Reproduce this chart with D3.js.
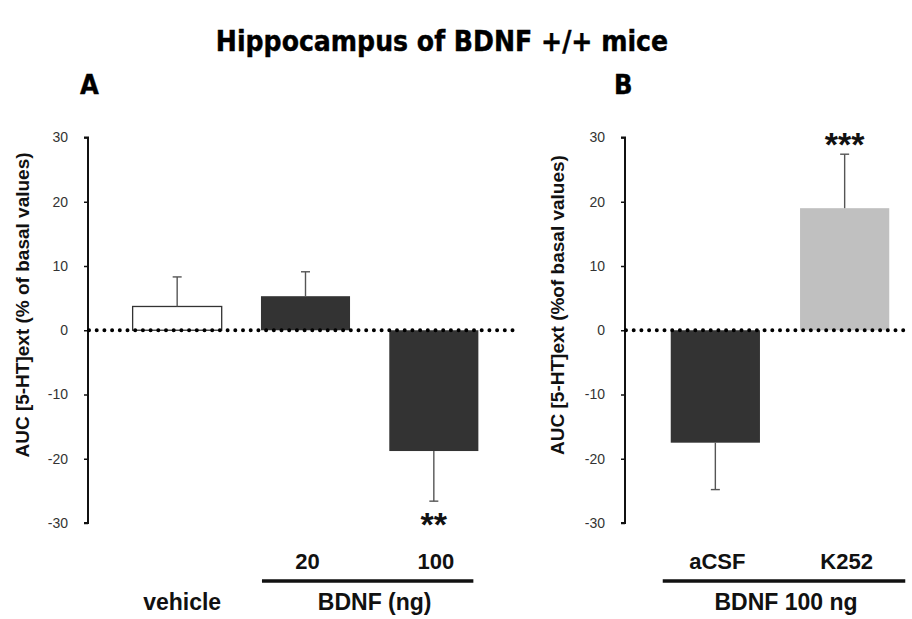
<!DOCTYPE html>
<html>
<head>
<meta charset="utf-8">
<script src="https://cdn.jsdelivr.net/npm/d3@7"></script>
<style>
  html, body { margin: 0; padding: 0; background: #fff; }
  svg { display: block; }
</style>
</head>
<body>
<svg id="chart" width="912" height="619"></svg>
<script>
// ---------- data ----------
const titleText = "Hippocampus of BDNF +/+ mice";
const yTicks = [30, 20, 10, 0, -10, -20, -30];

const catsA = ["vehicle", "20", "100"];
const valuesA = [3.7, 5.3, -18.8];
const errorsA = [4.6, 3.8, 7.8];
const colorsA = ["#ffffff", "#333333", "#333333"];
const starsA = ["", "", "**"];
const tickLabelsA = ["", "20", "100"];
const groupLabelsA = ["vehicle", "BDNF (ng)"];
const yLabelA = "AUC [5-HT]ext (% of basal values)";

const catsB = ["aCSF", "K252"];
const valuesB = [-17.5, 19.0];
const errorsB = [7.3, 8.4];
const colorsB = ["#333333", "#c0c0c0"];
const starsB = ["", "***"];
const tickLabelsB = ["aCSF", "K252"];
const groupLabelB = "BDNF 100 ng";
const yLabelB = "AUC [5-HT]ext (%of basal values)";

// ---------- drawing ----------
const svg = d3.select("#chart");
const SANS = "'Liberation Sans', Arial, Helvetica, sans-serif";
const TAHOMA = "'DejaVu Sans Condensed', 'DejaVu Sans', sans-serif";

const y = d3.scaleLinear().domain([-30, 30]).range([523, 137.5]);

svg.append("text")
  .attr("x", 442).attr("y", 51)
  .attr("text-anchor", "middle")
  .attr("font-family", TAHOMA).attr("font-weight", "bold")
  .attr("font-stretch", "condensed")
  .attr("font-size", 28)
  .attr("fill", "#000")
  .attr("stroke", "#000").attr("stroke-width", 0.4)
  .text(titleText);

function panel(opts) {
  const g = svg.append("g");
  const x = d3.scaleBand().domain(opts.cats).range(opts.xRange)
    .paddingInner(opts.pad).paddingOuter(opts.pad / 2);

  // panel letter
  g.append("text")
    .attr("x", opts.letterX).attr("y", 94)
    .attr("font-family", TAHOMA).attr("font-weight", "bold")
    .attr("font-size", 27).attr("fill", "#000")
    .attr("stroke", "#000").attr("stroke-width", 0.4)
    .text(opts.letter);

  // y axis
  const axis = d3.axisLeft(y).tickValues(yTicks).tickSize(4).tickPadding(16)
    .tickFormat(d => String(d));
  const ag = g.append("g").attr("transform", `translate(${opts.axisX},0)`).call(axis);
  ag.select(".domain").attr("stroke", "#111").attr("stroke-width", 2)
    .attr("d", `M-4,${y(30)}H0V${y(-30)}H-4`);
  ag.selectAll(".tick line").attr("stroke", "#111").attr("stroke-width", 1.5);
  ag.selectAll(".tick text")
    .attr("font-family", SANS).attr("font-size", 14).attr("fill", "#333");

  // y label
  g.append("text")
    .attr("transform", `translate(${opts.labelX},305) rotate(-90)`)
    .attr("text-anchor", "middle")
    .attr("font-family", SANS).attr("font-weight", "bold")
    .attr("font-size", 19).attr("fill", "#111")
    .text(opts.yLabel);

  // bars
  g.selectAll("rect.bar").data(opts.cats).enter().append("rect")
    .attr("class", "bar")
    .attr("x", d => x(d))
    .attr("width", x.bandwidth())
    .attr("y", (d, i) => y(Math.max(0, opts.values[i])))
    .attr("height", (d, i) => Math.abs(y(opts.values[i]) - y(0)))
    .attr("fill", (d, i) => opts.colors[i])
    .attr("stroke", (d, i) => opts.colors[i] === "#ffffff" ? "#333" : "none")
    .attr("stroke-width", 1.3);

  // error bars
  opts.cats.forEach((d, i) => {
    const v = opts.values[i], e = opts.errors[i];
    const end = v >= 0 ? v + e : v - e;
    const cx = x(d) + x.bandwidth() / 2;
    g.append("line").attr("x1", cx).attr("x2", cx)
      .attr("y1", y(v)).attr("y2", y(end))
      .attr("stroke", "#555").attr("stroke-width", 1.4);
    g.append("line").attr("x1", cx - 4.5).attr("x2", cx + 4.5)
      .attr("y1", y(end)).attr("y2", y(end))
      .attr("stroke", "#555").attr("stroke-width", 1.4);
    if (opts.stars[i]) {
      const sy = v >= 0 ? y(end) - 18 : y(end) + 15;
      g.append("text").attr("x", cx).attr("y", sy + 20)
        .attr("text-anchor", "middle")
        .attr("font-family", SANS).attr("font-weight", "bold")
        .attr("font-size", 34).attr("fill", "#111")
        .text(opts.stars[i]);
    }
  });

  // dotted zero line
  g.append("line")
    .attr("x1", opts.axisX + 1).attr("x2", opts.zeroEnd)
    .attr("y1", y(0)).attr("y2", y(0))
    .attr("stroke", "#000").attr("stroke-width", 4)
    .attr("stroke-linecap", "round").attr("stroke-dasharray", "0,7.7");

  // category labels
  opts.cats.forEach((d, i) => {
    if (!opts.tickLabels[i]) return;
    g.append("text")
      .attr("x", x(d) + x.bandwidth() / 2 + 2).attr("y", 569)
      .attr("text-anchor", "middle")
      .attr("font-family", SANS).attr("font-weight", "bold")
      .attr("font-size", 22).attr("fill", "#111")
      .text(opts.tickLabels[i]);
  });
  return { g, x };
}

const pA = panel({
  cats: catsA, values: valuesA, errors: errorsA, colors: colorsA, stars: starsA,
  tickLabels: tickLabelsA, yLabel: yLabelA, xRange: [113, 498], pad: 0.306,
  axisX: 88, labelX: 29, zeroEnd: 518, letter: "A", letterX: 80
});
const pB = panel({
  cats: catsB, values: valuesB, errors: errorsB, colors: colorsB, stars: starsB,
  tickLabels: tickLabelsB, yLabel: yLabelB, xRange: [650.7, 909.3], pad: 0.31,
  axisX: 625, labelX: 564, zeroEnd: 910, letter: "B", letterX: 614
});

// group brackets & labels
const xa = pA.x, xb = pB.x;
svg.append("line")
  .attr("x1", xa("20") + 1).attr("x2", xa("100") + xa.bandwidth() - 5)
  .attr("y1", 581).attr("y2", 581)
  .attr("stroke", "#111").attr("stroke-width", 3.5);
svg.append("line")
  .attr("x1", xb("aCSF") - 8).attr("x2", xb("K252") + xb.bandwidth() + 16)
  .attr("y1", 581).attr("y2", 581)
  .attr("stroke", "#111").attr("stroke-width", 3.5);

function groupLabel(xPos, txt) {
  svg.append("text")
    .attr("x", xPos).attr("y", 610)
    .attr("text-anchor", "middle")
    .attr("font-family", SANS).attr("font-weight", "bold")
    .attr("font-size", 23).attr("fill", "#111")
    .text(txt);
}
groupLabel(xa("vehicle") + xa.bandwidth() / 2 + 5, groupLabelsA[0]);
groupLabel((xa("20") + xa("100") + xa.bandwidth()) / 2 + 5, groupLabelsA[1]);
groupLabel((xb("aCSF") + xb("K252") + xb.bandwidth()) / 2 + 6, groupLabelB);
</script>
</body>
</html>
